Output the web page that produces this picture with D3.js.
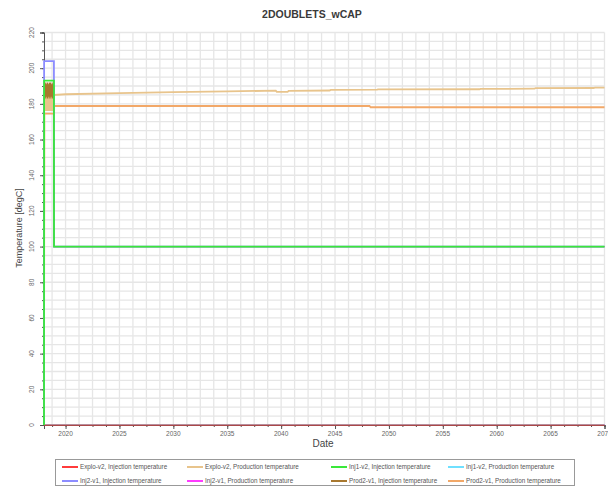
<!DOCTYPE html>
<html>
<head>
<meta charset="utf-8">
<script src="https://cdn.jsdelivr.net/npm/d3@7"></script>
<style>
  html, body { margin: 0; padding: 0; background: #fff; }
  svg { display: block; font-family: Arial, "Liberation Sans", sans-serif; }
</style>
</head>
<body>
<svg id="chart" width="608" height="486"></svg>
<script>
// Series names and colours (legend order)
const seriesNames = [
  "Explo-v2, Injection temperature",
  "Explo-v2, Production temperature",
  "Inj1-v2, Injection temperature",
  "Inj1-v2, Production temperature",
  "Inj2-v1, Injection temperature",
  "Inj2-v1, Production temperature",
  "Prod2-v1, Injection temperature",
  "Prod2-v1, Production temperature"
];
const seriesColors = ["#ff3b3b", "#e8c48c", "#3ae83a", "#6fe0ff", "#8c8cff", "#ff3cff", "#a8782f", "#f2a868"];

// [decimal year, temperature degC]
const exploInj = [[2018.0, 0], [2070, 0]];
const exploProd = [
  [2018.0, 0], [2018.02, 190], [2018.06, 177], [2018.10, 191], [2018.14, 176], [2018.18, 191],
  [2018.22, 177], [2018.26, 191], [2018.30, 176], [2018.34, 190], [2018.38, 177], [2018.42, 191],
  [2018.46, 176], [2018.50, 191], [2018.54, 177], [2018.58, 190], [2018.62, 176], [2018.66, 191],
  [2018.70, 177], [2018.74, 191], [2018.78, 176], [2018.82, 190], [2018.86, 177], [2018.90, 189],
  [2018.93, 185.0], [2020, 185.4], [2025, 186.0], [2030, 186.6], [2035, 187.0], [2039.5, 187.4],
  [2039.6, 186.7], [2040.6, 186.7], [2040.7, 187.3], [2044.5, 187.5], [2044.6, 187.8],
  [2048.9, 188.0], [2049.0, 188.1], [2058.4, 188.2], [2058.5, 188.4], [2063.5, 188.5],
  [2063.6, 188.8], [2069.0, 188.9], [2069.1, 189.1], [2070, 189.1]
];
const inj1Inj = [[2018.0, 0], [2018.01, 193], [2018.92, 193], [2018.93, 100], [2070, 100]];
const inj1Prod = [[2018.0, 0], [2070, 0]];
const inj2Inj = [[2018.0, 0], [2018.01, 204], [2018.92, 204], [2018.93, 100], [2070, 100]];
const inj2Prod = [[2018.0, 0], [2070, 0]];
const prod2Inj = [
  [2018.0, 0], [2018.04, 192], [2018.08, 184], [2018.12, 192], [2018.16, 183], [2018.20, 191],
  [2018.24, 184], [2018.28, 192], [2018.32, 183], [2018.36, 192], [2018.40, 184], [2018.44, 191],
  [2018.48, 183], [2018.52, 192], [2018.56, 184], [2018.60, 192], [2018.64, 183], [2018.68, 191],
  [2018.72, 184], [2018.76, 192], [2018.80, 183], [2018.84, 191], [2018.88, 185], [2018.92, 190],
  [2018.93, 100], [2070, 100]
];
const prod2Prod = [
  [2018.0, 0], [2018.03, 174.5], [2018.92, 174.5], [2018.93, 178.8], [2048.2, 178.8],
  [2048.3, 178.1], [2070, 178.1]
];

const seriesData = [exploInj, exploProd, inj1Inj, inj1Prod, inj2Inj, inj2Prod, prod2Inj, prod2Prod];
// lines drawn beneath the axes, then the rest on top (green last)
const underAxis = [5, 3];
const overAxis = [1, 6, 7, 4, 0, 2];

// Axis ticks
const yMajorTicks = [0, 20, 40, 60, 80, 100, 120, 140, 160, 180, 200, 220];
const yMinorTicks = d3.range(0, 221, 5);
const xMajorTicks = [2020, 2025, 2030, 2035, 2040, 2045, 2050, 2055, 2060, 2065, 2070];
const xMinorTicks = d3.range(2018.75, 2070.01, 1.25);

const svg = d3.select("#chart");
const x = d3.scaleLinear().domain([2018, 2070]).range([44, 604.5]);
const y = d3.scaleLinear().domain([0, 220]).range([425, 32.5]);

// Title
svg.append("text").attr("x", 312).attr("y", 18).attr("text-anchor", "middle")
  .attr("font-size", 10.5).attr("font-weight", "bold").attr("fill", "#3a3a3a").text("2DOUBLETS_wCAP");

// Grid
const grid = svg.append("g").attr("stroke", "#e6e6e6").attr("stroke-width", 1.3);
grid.selectAll("line.h").data(yMinorTicks).join("line")
  .attr("x1", x(2018)).attr("x2", x(2070)).attr("y1", d => y(d)).attr("y2", d => y(d));
grid.selectAll("line.v").data(xMinorTicks).join("line")
  .attr("y1", y(0)).attr("y2", y(220)).attr("x1", d => x(d)).attr("x2", d => x(d));

const line = d3.line().x(d => x(d[0])).y(d => y(d[1]));
const drawSeries = (g, i) => g.append("path").datum(seriesData[i]).attr("d", line)
  .attr("fill", "none").attr("stroke", seriesColors[i])
  .attr("stroke-width", i === 6 ? 1.1 : 1.8)
  .attr("stroke-opacity", i === 0 ? 0.5 : 1);

const under = svg.append("g");
underAxis.forEach(i => drawSeries(under, i));

// Axes
const yAxisG = svg.append("g").attr("transform", `translate(${x(2018)},0)`)
  .call(d3.axisLeft(y).tickValues(yMinorTicks).tickSize(2).tickFormat(""));
yAxisG.call(g => g.append("g").call(d3.axisLeft(y).tickValues(yMajorTicks).tickSize(4).tickFormat("")));
yAxisG.selectAll("path, line").attr("stroke", "#555");

const xAxisG = svg.append("g").attr("transform", `translate(0,${y(0)})`)
  .call(d3.axisBottom(x).tickValues(xMinorTicks).tickSize(2).tickFormat(""));
xAxisG.call(g => g.append("g").call(d3.axisBottom(x).tickValues(xMajorTicks).tickSize(4).tickFormat("")));
xAxisG.selectAll("path, line").attr("stroke", "#555");

// Tick labels
svg.append("g").selectAll("text").data(yMajorTicks).join("text")
  .attr("transform", d => `translate(34,${y(d)}) rotate(-90)`)
  .attr("text-anchor", "middle").attr("font-size", 6.5).attr("fill", "#666").text(d => d);
svg.append("g").selectAll("text").data(xMajorTicks).join("text")
  .attr("x", d => x(d)).attr("y", 435.5).attr("text-anchor", "middle")
  .attr("font-size", 6.5).attr("fill", "#666").text(d => d);

// Axis titles
svg.append("text").attr("transform", "translate(22,228) rotate(-90)").attr("text-anchor", "middle")
  .attr("font-size", 9).attr("fill", "#444").text("Temperature [degC]");
svg.append("text").attr("x", 323).attr("y", 447).attr("text-anchor", "middle")
  .attr("font-size", 10).attr("fill", "#444").text("Date");

// Series lines above the axes
const over = svg.append("g");
overAxis.forEach(i => drawSeries(over, i));

// Legend
const legend = svg.append("g");
legend.append("rect").attr("x", 55.5).attr("y", 459.5).attr("width", 519).attr("height", 26)
  .attr("fill", "#fff").attr("stroke", "#999");
const colX = [62, 187, 331, 448];
const rowY = [467, 481];
seriesNames.forEach((name, i) => {
  const cx = colX[i % 4], cy = rowY[Math.floor(i / 4)];
  legend.append("line").attr("x1", cx).attr("x2", cx + 16).attr("y1", cy).attr("y2", cy)
    .attr("stroke", seriesColors[i]).attr("stroke-width", 2);
  legend.append("text").attr("x", cx + 18).attr("y", cy + 2.2).attr("font-size", 6.3)
    .attr("fill", "#555").text(name);
});
</script>
</body>
</html>
